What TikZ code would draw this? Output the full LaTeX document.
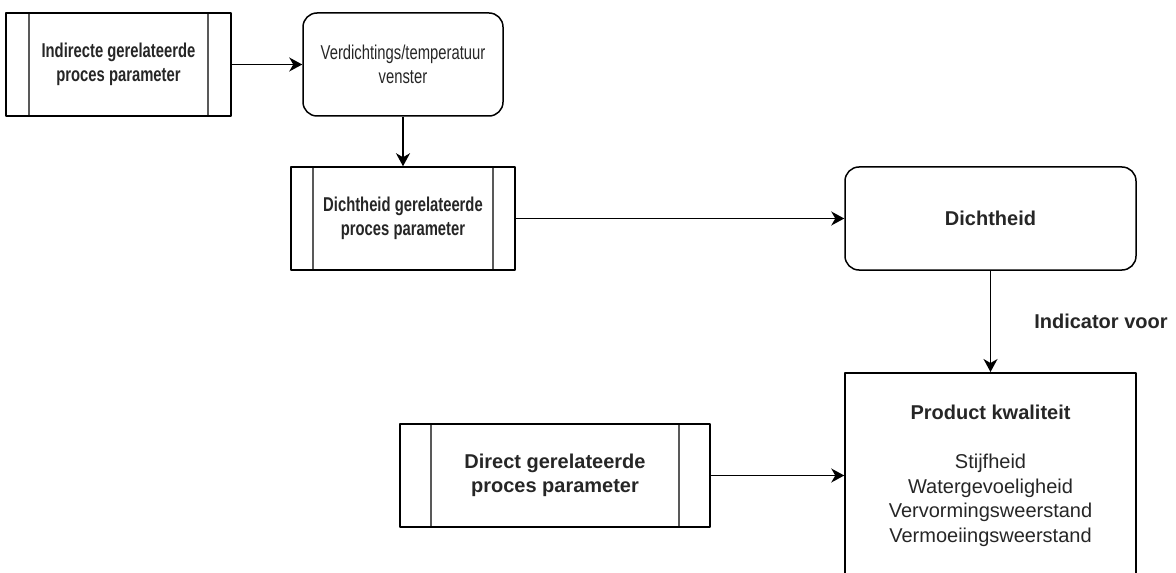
\documentclass[tikz,border=0pt]{standalone}
\usepackage{fontspec}
\setmainfont{Liberation Sans}
\newfontfamily\smalfont[FakeStretch=0.74]{Liberation Sans}
\usepackage{tikz}
\usetikzlibrary{arrows.meta}
\tikzset{
	procbox/.style 2 args={draw, rectangle, align=center, minimum width=#1, minimum height=51.5pt, path picture={
		\draw[black!65] ([xshift=#2]path picture bounding box.north west) -- ([xshift=#2]path picture bounding box.south west);
		\draw[black!65] ([xshift=-#2]path picture bounding box.north east) -- ([xshift=-#2]path picture bounding box.south east);}},
	rondbox/.style={draw, rectangle, rounded corners=7pt, align=center, minimum width=#1, minimum height=51.5pt},
	kwalbox/.style={draw, rectangle, align=center, minimum width=145.5pt, inner ysep=16pt, anchor=north, text depth=45pt}
}

\begin{document}
\begin{tikzpicture}[line join=round, line width=0.75pt, >={Stealth[inset=2pt,length=6.5pt,width=7pt]}, every node/.style={font=\fontsize{10}{12.3}\selectfont, text=black!85}]
	\begin{scope}[x=0.5pt, y=-0.5pt]
		\useasboundingbox (0,0) rectangle (1176,572);
		\clip (0,0) rectangle (1176,572);
		% upper row, narrow lettering
		\node[procbox={112.5pt}{11.5pt}, font=\fontsize{10}{12.3}\smalfont\bfseries] (indirect) at (118.5,64.5) {Indirecte gerelateerde\\proces parameter};
		\node[rondbox=100pt, font=\fontsize{10}{12.3}\smalfont] (venster) at (403,64.5) {Verdichtings/temperatuur\\venster};
		\node[procbox={112pt}{11pt}, font=\fontsize{10}{12.3}\smalfont\bfseries] (dichtproc) at (403,218.5) {Dichtheid gerelateerde\\proces parameter};
		% right column
		\node[rondbox=145.5pt, font=\fontsize{10}{12.3}\selectfont\bfseries] (dicht) at (990.5,218.5) {Dichtheid};
		\node[kwalbox] (kwal) at (990.5,372) {{\bfseries Product kwaliteit}\\[12.3pt]Stijfheid\\Watergevoeligheid\\Vervormingsweerstand\\Vermoeiingsweerstand};
		\node[procbox={155pt}{15.5pt}, font=\fontsize{10}{12.3}\selectfont\bfseries] (directproc) at (555,475.5) {Direct gerelateerde\\proces parameter};
	\end{scope}
	\draw[->] (indirect.east) -- (venster.west);
	\draw[->] (venster.south) -- (dichtproc.north);
	\draw[->] (dichtproc.east) -- (dicht.west);
	\draw[->] (dicht.south) -- node[anchor=west, inner sep=0pt, xshift=21.5pt, font=\fontsize{10}{12.3}\selectfont\bfseries] (indlabel) {Indicator voor} (kwal.north);
	\draw[->] (directproc.east) -- (directproc.east -| kwal.west);
\end{tikzpicture}
\end{document}
